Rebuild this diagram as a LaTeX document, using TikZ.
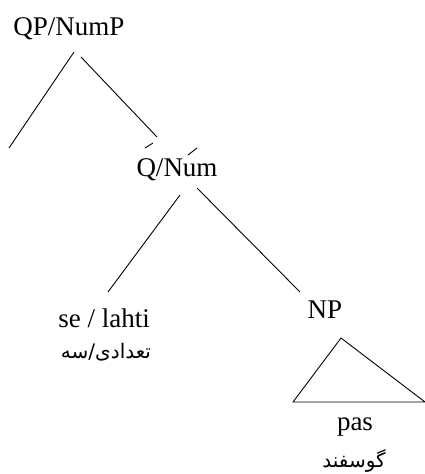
\documentclass[tikz,border=0pt]{standalone}
\usepackage{fontspec}
\setmainfont{Liberation Serif}
\newfontfamily\farsifont[Script=Arabic]{DejaVu Sans}
\TeXXeTstate=1
\begin{document}
\begin{tikzpicture}[x=1pt,y=-1pt,line width=0.9pt,
  lab/.style={inner sep=0pt,anchor=base,font=\fontsize{27}{32}\selectfont},
  gloss/.style={inner sep=0pt,font=\fontsize{20}{23}\farsifont}]
\useasboundingbox (0,0) rectangle (425,474);

% Labels
\node[lab] (qp) at (69,35) {QP/NumP};
\node[lab] (qnum) at (177,176) {Q/Num};
\node[lab] (num) at (104,327) {se / lahti};
\node[gloss] (numfa) at (106,352) {\beginR تعدادی/سه\endR};
\node[lab] (np) at (325,318) {NP};
\node[lab] (pas) at (355,430) {pas};
\node[gloss] (pasfa) at (354,461) {\beginR گوسفند\endR};

% Empty specifier
\coordinate (spec) at (9,148);

% Branches
\draw ([shift={(5,17)}]qp.base) -- (spec);
\draw ([shift={(12,22)}]qp.base) -- ([shift={(-20,-39)}]qnum.base);
\draw ([shift={(3,19)}]qnum.base) -- ([shift={(4,-35)}]num.base);
\draw ([shift={(20,12)}]qnum.base) -- ([shift={(-25,-26)}]np.base);

% Stray strokes on Q/Num
\draw ([shift={(-32,-28)}]qnum.base) -- ([shift={(-24,-33)}]qnum.base);
\draw ([shift={(11,-21)}]qnum.base) -- ([shift={(20,-28)}]qnum.base);

% Triangle over pas
\draw ([shift={(16,20)}]np.base) -- ([shift={(-32,84)}]np.base)
  -- ([shift={(100,84)}]np.base) -- cycle;

\end{tikzpicture}
\end{document}
